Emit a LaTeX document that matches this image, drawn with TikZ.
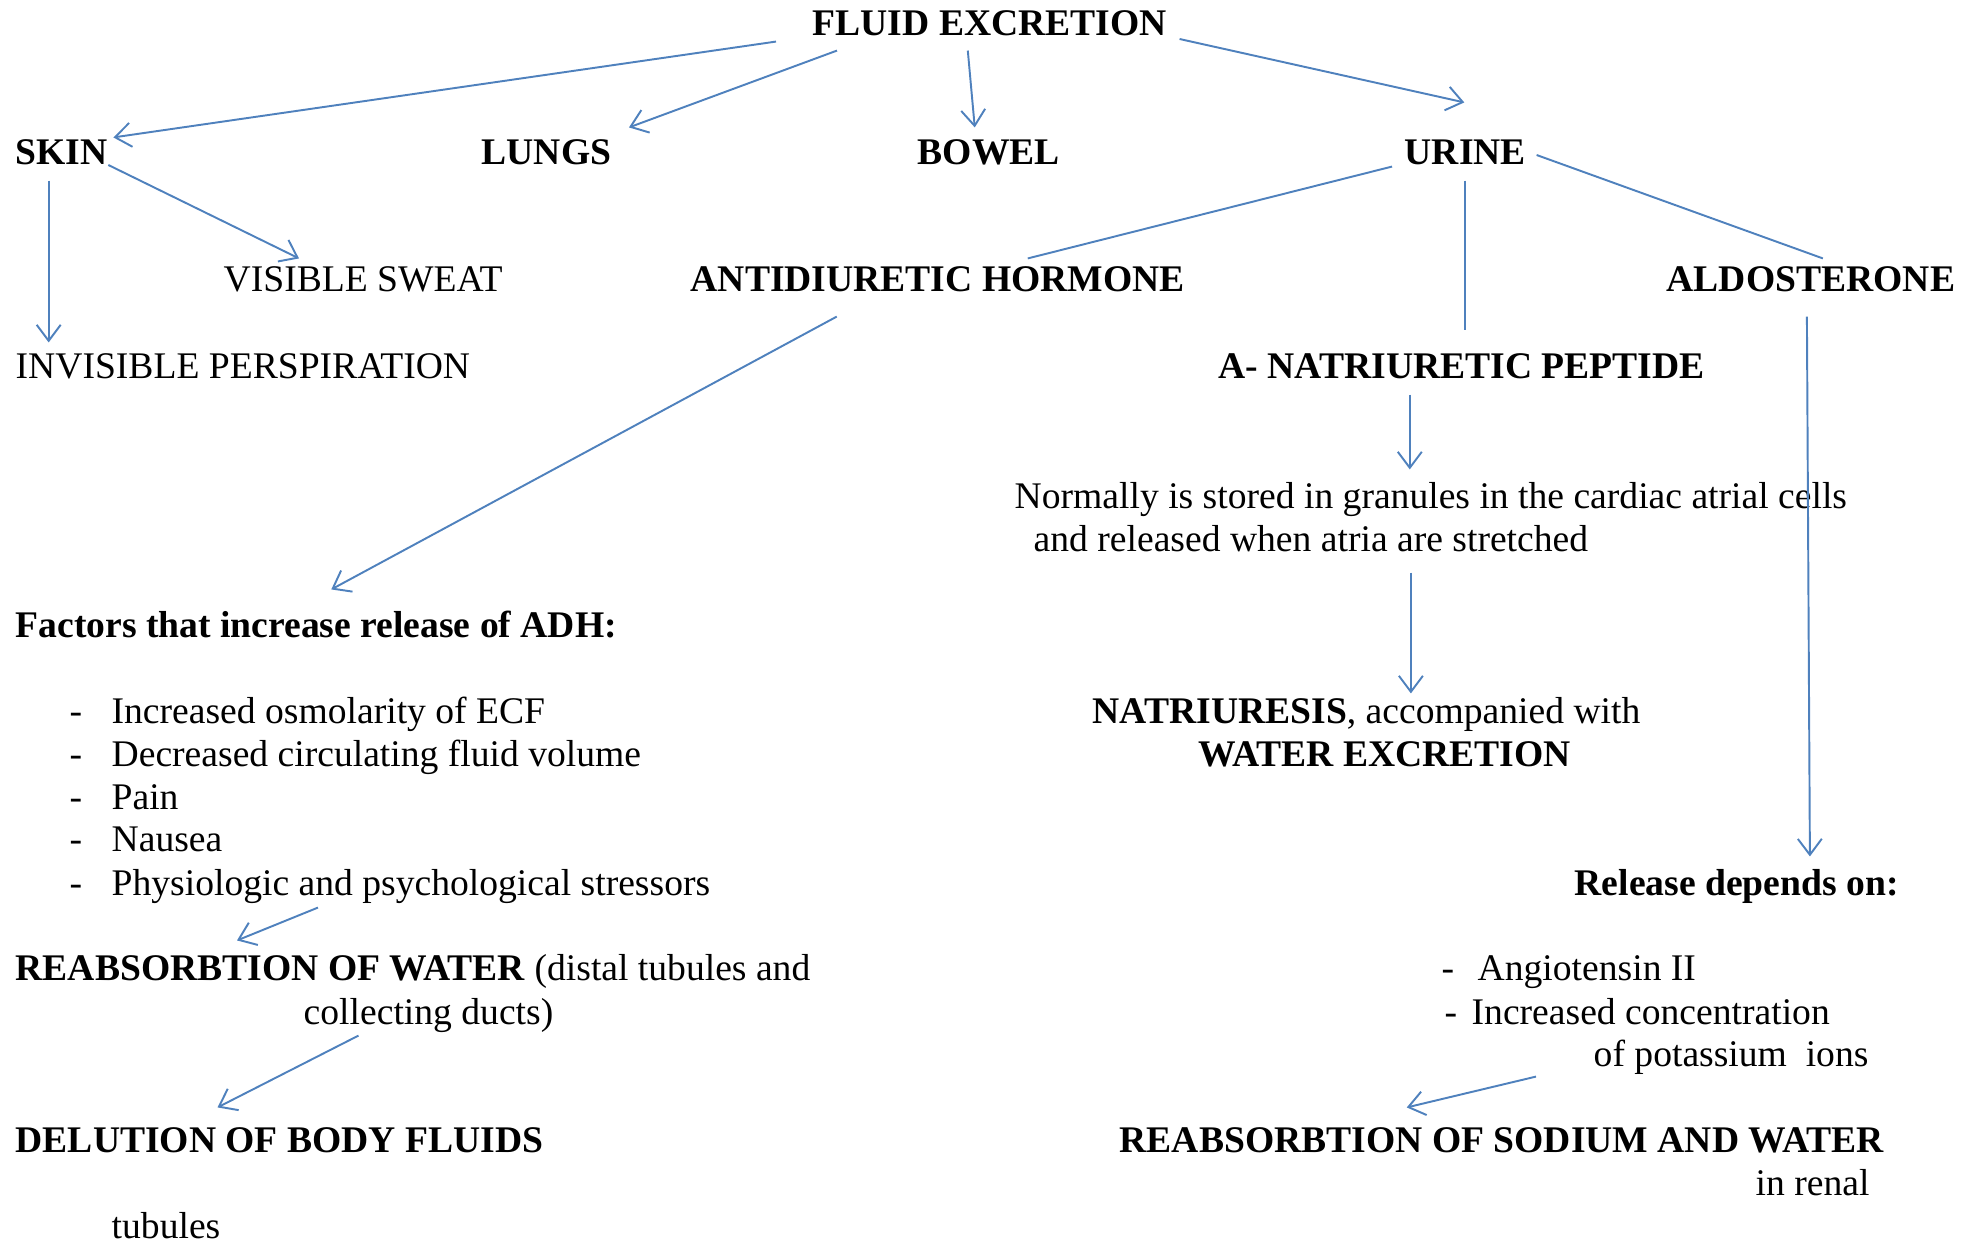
\documentclass[tikz,border=0pt]{standalone}
\usepackage{fontspec}
\setmainfont{Liberation Serif}
\usepackage{xcolor}
\usetikzlibrary{arrows.meta}
\definecolor{lineblue}{RGB}{79,129,189}
\tikzset{
  txt/.style={anchor=west, inner sep=0pt, text height=8pt, text depth=1.6pt,
    font=\fontsize{10.7}{12.8}\selectfont},
  head/.style={txt, font=\fontsize{10.7}{12.8}\selectfont\bfseries},
  arr/.style={draw=lineblue, line width=0.55pt, -{Straight Barb[length=1.6mm,width=2.4mm]}},
  link/.style={draw=lineblue, line width=0.55pt}
}
\begin{document}
\begin{tikzpicture}[x=0.1mm, y=-0.1mm]
	\useasboundingbox (0,0) rectangle (1973,1243);
	% top level
	\node[head] (fe) at (812,24) {FLUID EXCRETION};
	\node[head] (skin) at (15,153) {SKIN};
	\node[head] (lungs) at (481,153) {LUNGS};
	\node[head] (bowel) at (917,153) {BOWEL};
	\node[head] (urine) at (1404,153) {URINE};
	% skin
	\node[txt] (sweat) at (223,280) {VISIBLE SWEAT};
	\node[txt] (invis) at (15,367) {INVISIBLE PERSPIRATION};
	% urine
	\node[head] (adh) at (690,280) {ANTIDIURETIC HORMONE};
	\node[head] (aldo) at (1666,280) {ALDOSTERONE};
	\node[head] (anp) at (1218,367) {A- NATRIURETIC PEPTIDE};
	% ADH branch
	\node[head] (fac) at (15,626) {Factors that increase release of ADH:};
	\node[txt] (f1) at (69,712) {\makebox[4.2mm][l]{-}Increased osmolarity of ECF};
	\node[txt] (f2) at (69,755) {\makebox[4.2mm][l]{-}Decreased circulating fluid volume};
	\node[txt] (f3) at (69,798) {\makebox[4.2mm][l]{-}Pain};
	\node[txt] (f4) at (69,840) {\makebox[4.2mm][l]{-}Nausea};
	\node[txt] (f5) at (69,884) {\makebox[4.2mm][l]{-}Physiologic and psychological stressors};
	\node[txt] (rw) at (15,969) {\textbf{REABSORBTION OF WATER} (distal tubules and};
	\node[txt] (cd) at (303,1013) {collecting ducts)};
	\node[head] (del) at (15,1141) {DELUTION OF BODY FLUIDS};
	\node[txt] (tub) at (111,1227) {tubules};
	% ANP branch
	\node[txt] (normA) at (1014,497) {Normally is stored in granules in the cardiac atrial cells};
	\node[txt] (normB) at (1033,540) {and released when atria are stretched};
	\node[txt] (natA) at (1092,712) {\textbf{NATRIURESIS}, accompanied with};
	\node[head] (natB) at (1198,755) {WATER EXCRETION};
	% aldosterone branch
	\node[head] (rel) at (1574,884) {Release depends on:};
	\node[txt] (ang) at (1441,969) {\makebox[3.6mm][l]{-}Angiotensin II};
	\node[txt] (inc) at (1444,1013) {\makebox[2.7mm][l]{-}Increased concentration};
	\node[txt] (pot) at (1593,1055) {of potassium\ \ ions};
	\node[head] (rsw) at (1119,1141) {REABSORBTION OF SODIUM AND WATER};
	\node[txt] (renal) at (1755,1184) {in renal};
	% connectors
	\draw[arr] ([shift={(-36,0)}]fe.south west) -- ([shift={(5,2)}]skin.north east);
	\draw[arr] ([shift={(25,9)}]fe.south west) -- ([shift={(17,-8)}]lungs.north east);
	\draw[arr] ([shift={(-22,9)}]fe.south) -- ([shift={(-14,-8)}]bowel.north);
	\draw[arr] ([shift={(12,15)}]fe.east) -- ([shift={(-1,-33)}]urine.north);
	\draw[arr] ([shift={(0,12)}]skin.east) -- ([shift={(76,-4)}]sweat.north west);
	\draw[arr] ([shift={(-13,10)}]skin.south) -- ([shift={(-13,-7)}]skin.south |- invis.north);
	\draw[link] ([shift={(-12,-4)}]urine.south west) -- ([shift={(90,-4)}]adh.north);
	\draw[link] ([shift={(0,10)}]urine.south) -- ([shift={(0,-19)}]urine.south |- anp.north);
	\draw[link] ([shift={(10,2)}]urine.east) -- ([shift={(12,-4)}]aldo.north);
	\draw[arr] ([shift={(-101,19)}]adh.south) -- ([shift={(15,-19)}]fac.north);
	\draw[arr] ([shift={(-52,10)}]anp.south) -- ([shift={(-52,-10)}]anp.south |- normA.north);
	\draw[arr] ([shift={(100,15)}]normB.south) -- ([shift={(100,-1)}]normB.south |- natA.north);
	\draw[arr] ([shift={(-4,19)}]aldo.south) -- ([shift={(-1,-10)}]aldo.south |- rel.north);
	\draw[arr] ([shift={(-72,6)}]f5.south) -- ([shift={(222,-11)}]rw.north west);
	\draw[arr] ([shift={(-70,5)}]cd.south) -- ([shift={(-62,-16)}]del.north);
	\draw[arr] ([shift={(-57,4)}]pot.south west) -- ([shift={(-95,-16)}]rsw.north);
\end{tikzpicture}
\end{document}
